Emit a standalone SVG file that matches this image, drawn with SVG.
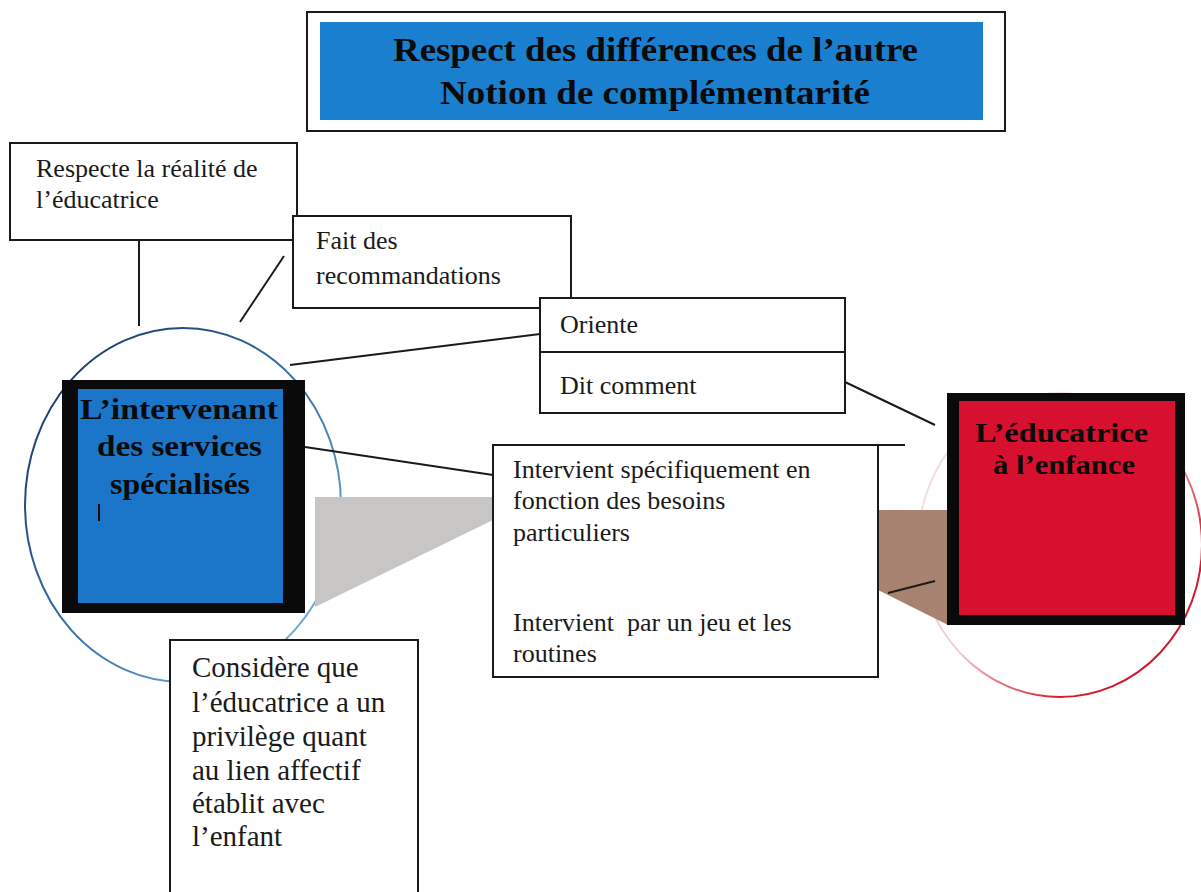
<svg xmlns="http://www.w3.org/2000/svg" width="1201" height="892" viewBox="0 0 1201 892">
<style>
.box{fill:#fff;stroke:#1a1a1a;stroke-width:2}
.t{font-family:"Liberation Serif",serif;fill:#1a1a1a}
.n{font-size:26px}
.c{font-size:29px}
.b{font-weight:bold;fill:#0a0a0a}
.ln{stroke:#1a1a1a;stroke-width:2;fill:none}
</style>
<defs>
<linearGradient id="gl" x1="0" y1="0" x2="1" y2="1">
<stop offset="0" stop-color="#152a5a"/>
<stop offset="0.55" stop-color="#3a78b0"/>
<stop offset="1" stop-color="#8fc0e4"/>
</linearGradient>
<linearGradient id="gr" x1="0" y1="0" x2="1" y2="1">
<stop offset="0" stop-color="#f2e6e6"/>
<stop offset="0.5" stop-color="#f0d0d0"/>
<stop offset="0.75" stop-color="#d81c30"/>
<stop offset="1" stop-color="#c8102a"/>
</linearGradient>
</defs>
<rect width="1201" height="892" fill="#fff"/>

<g id="title">
<rect x="307" y="12" width="698" height="119" class="box"/>
<rect x="320" y="22" width="663" height="98" fill="#1a7fcf"/>
<text class="t b" x="393" y="61" font-size="34" textLength="525" lengthAdjust="spacingAndGlyphs">Respect des différences de l’autre</text>
<text class="t b" x="440" y="104" font-size="34" textLength="430" lengthAdjust="spacingAndGlyphs">Notion de complémentarité</text>
</g>

<g id="shapes">
<ellipse cx="183" cy="505" rx="158" ry="177" fill="none" stroke="url(#gl)" stroke-width="2"/>
<ellipse cx="1060" cy="545" rx="142" ry="152" fill="none" stroke="url(#gr)" stroke-width="2"/>
<polygon points="315,497 493,497 493,520 315,607" fill="#c8c6c4"/>
<polygon points="878,510 948,510 948,625 878,590" fill="#a88270"/>
</g>

<g id="connectors">
<line x1="139" y1="240" x2="139" y2="326" class="ln"/>
<line x1="240" y1="322" x2="284" y2="256" class="ln"/>
<line x1="290" y1="365" x2="540" y2="334" class="ln"/>
<line x1="845" y1="382" x2="935" y2="425" class="ln"/>
<line x1="305" y1="447" x2="493" y2="475" class="ln"/>
<line x1="888" y1="593" x2="935" y2="581" class="ln"/>
<line x1="878" y1="445" x2="905" y2="445" class="ln"/>
</g>

<g id="respecte">
<rect x="10" y="143" width="287" height="97" class="box"/>
<text class="t n" x="36" y="177">Respecte la réalité de</text>
<text class="t n" x="36" y="208">l’éducatrice</text>
</g>

<g id="fait">
<rect x="293" y="216" width="278" height="92" class="box"/>
<text class="t n" x="316" y="249">Fait des</text>
<text class="t n" x="316" y="284">recommandations</text>
</g>

<g id="oriente">
<rect x="540" y="298" width="305" height="115" class="box"/>
<line x1="540" y1="352" x2="845" y2="352" class="ln"/>
<text class="t n" x="560" y="333">Oriente</text>
<text class="t n" x="560" y="394">Dit comment</text>
</g>

<g id="intervenant">
<rect x="62" y="380" width="243" height="233" fill="#0a0a0a"/>
<rect x="78" y="389" width="205" height="214" fill="#1b76c9"/>
<text class="t b" x="80" y="419" font-size="30" textLength="198" lengthAdjust="spacingAndGlyphs">L’intervenant</text>
<text class="t b" x="97" y="456" font-size="30" textLength="165" lengthAdjust="spacingAndGlyphs">des services</text>
<text class="t b" x="110" y="494" font-size="30" textLength="140" lengthAdjust="spacingAndGlyphs">spécialisés</text>
<line x1="99" y1="504" x2="99" y2="521" stroke="#0a0a0a" stroke-width="2"/>
</g>

<g id="intervient">
<rect x="493" y="445" width="385" height="232" class="box"/>
<text class="t n" x="513" y="478">Intervient spécifiquement en</text>
<text class="t n" x="513" y="509">fonction des besoins</text>
<text class="t n" x="513" y="541">particuliers</text>
<text class="t n" x="513" y="631" xml:space="preserve">Intervient  par un jeu et les</text>
<text class="t n" x="513" y="662">routines</text>
</g>

<g id="educatrice">
<rect x="947" y="393" width="238" height="232" fill="#0a0a0a"/>
<rect x="959" y="401" width="216" height="214" fill="#d6102e"/>
<text class="t b" x="975" y="442" font-size="28" textLength="173" lengthAdjust="spacingAndGlyphs">L’éducatrice</text>
<text class="t b" x="993" y="474" font-size="28" textLength="142" lengthAdjust="spacingAndGlyphs">à l’enfance</text>
</g>

<g id="considere">
<path d="M170,892 V640 H418 V892" class="box"/>
<text class="t c" x="192" y="677">Considère que</text>
<text class="t c" x="192" y="712">l’éducatrice a un</text>
<text class="t c" x="192" y="746">privilège quant</text>
<text class="t c" x="192" y="780">au lien affectif</text>
<text class="t c" x="192" y="813">établit avec</text>
<text class="t c" x="192" y="846">l’enfant</text>
</g>
</svg>
